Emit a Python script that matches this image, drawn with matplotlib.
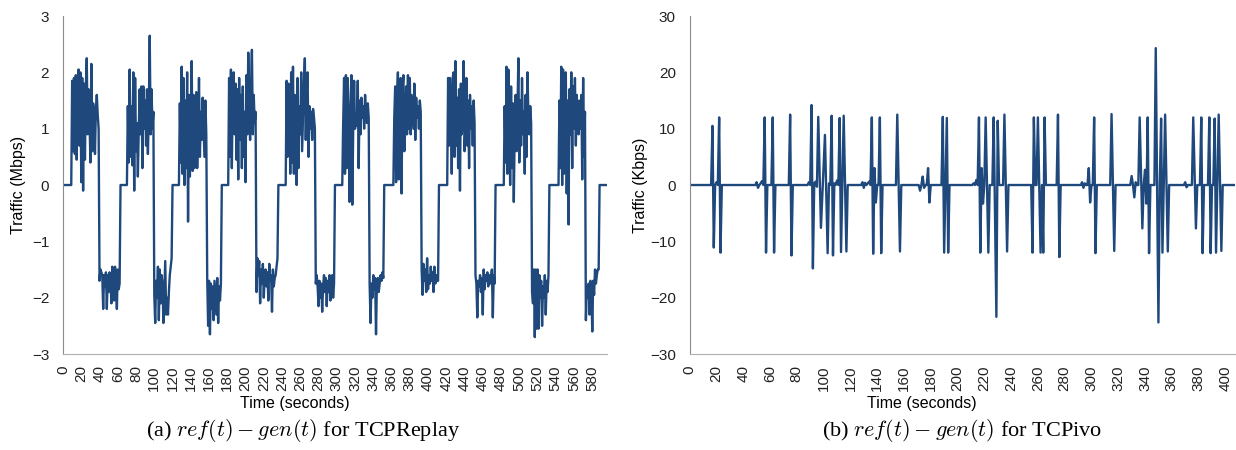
import numpy as np
import matplotlib.pyplot as plt

plt.rcParams['font.family'] = ['Liberation Sans', 'DejaVu Sans']
plt.rcParams['mathtext.fontset'] = 'cm'

# (a) TCPReplay, Mbps, one sample per second.
# each burst: start second, positive part, negative part; zero in between
burst_start = [10, 71, 128, 182, 245, 307, 363, 422, 484, 544]
burst_pos = [
    [1.85, 0.6, 1.9, 0.55, 1.95, 0.45, 1.6, 2.05, 0.7, 2.0, 0.05, 1.9, -0.1, 1.8, 0.45,
     1.75, 2.25, 0.9, 1.7, 1.2, 0.4, 2.15, 0.6, 1.45, 1.2, 0.55, 1.35, 1.6, 1.25, 1.0],
    [1.4, 0.4, 2.05, 0.5, 1.4, 0.35, 2.0, -0.1, 1.9, 0.6, 1.1, 0.15, 1.0, 1.7, 0.9,
     1.75, 0.3, 1.75, 1.0, 1.5, 0.7, 1.7, 0.55, 1.3, 2.65, 0.9, 1.7, 1.0, 1.3],
    [1.45, 0.4, 2.1, 0.2, 1.9, 0.0, 1.5, 0.3, 2.0, -0.65, 1.6, 0.15, 1.0, 2.2, 0.25,
     1.6, 0.3, 1.2, 1.65, 0.3, 0.9, 1.9, 0.5, 1.3, 0.8, 1.55, 1.0, 0.5, 1.5, 0.9],
    [1.9, 0.5, 2.05, 0.3, 1.75, 2.0, 0.9, 1.8, 0.45, 1.7, 0.1, 1.9, 0.8, 1.6, 0.3,
     1.75, 0.5, 1.3, 0.05, 1.95, 0.9, 2.35, 1.4, 0.8, 1.75, 2.4, 0.9, 1.6, 1.1, 1.3],
    [1.85, 0.5, 1.8, 1.7, 0.2, 2.0, 0.4, 2.1, 0.2, 1.6, 1.2, 0.0, 1.9, 0.3, 1.4, 0.9,
     2.0, 0.6, 1.2, 1.8, 2.25, 0.8, 1.65, 2.0, 0.5, 1.4, 1.0, 1.3, 0.8, 1.35, 1.2, 1.0],
    [1.1, 1.9, 0.2, 1.95, 0.3, 1.9, 1.2, -0.3, 1.2, 1.95, -0.35, 1.0, 1.85, 1.0, 1.2,
     1.05, 1.85, 0.3, 1.5, 0.9, 1.55, 1.2, 1.4, 1.0, 1.6, 1.3, 1.1, 1.45, 1.2],
    [1.2, 1.75, 0.05, 1.5, 2.0, 0.1, 1.3, 1.9, -0.15, 1.7, 1.95, 0.6, 1.0, 1.75, 0.9,
     1.95, 1.0, 1.9, 0.9, 1.6, 1.3, 1.0, 1.8, 0.8, 1.55, 1.2, 1.4, 1.0, 1.5, 1.3],
    [1.9, 0.7, 1.9, 1.5, 0.2, 1.9, 2.0, 0.5, 2.2, 0.7, 1.55, 0.3, 1.7, -0.1, 1.8,
     0.9, 1.2, 2.2, 0.6, 1.0, 1.9, 0.7, 1.5, 0.3, 1.6, 1.0, 1.4, 0.7, 1.5, 1.1],
    [1.4, 0.4, 2.1, 0.2, 2.05, 1.3, 0.0, 1.75, 0.3, 1.45, -0.3, 1.0, 1.6, 0.6, 1.3,
     2.25, 0.4, 1.5, 0.7, 1.9, 0.9, 1.3, 0.2, 1.6, 0.5, 2.0, 1.2, 0.9, 1.4, 1.1],
    [1.5, 0.3, 2.1, 0.0, 2.05, 0.2, 1.8, 2.0, -0.15, 1.5, -0.7, 1.7, 0.9, 2.0, 0.3,
     1.75, 1.0, 1.9, 0.7, 1.6, 1.2, 0.9, 1.5, 1.0, 1.6, 0.1, 1.9, 0.5, 1.3],
]
burst_neg = [
    [-1.7, -1.5, -1.55, -1.6, -2.2, -1.6, -1.8, -1.55, -2.2, -1.6, -1.9, -1.55, -1.7,
     -2.1, -1.45, -1.8, -2.05, -1.45, -1.7, -2.2, -1.5, -1.85, -1.75],
    [-1.95, -2.45, -1.7, -2.0, -1.45, -2.4, -1.5, -2.1, -1.6, -1.75, -2.45, -1.9, -1.35,
     -2.3, -2.0, -2.3, -1.9, -1.6, -1.45, -1.3],
    [-1.65, -2.5, -1.7, -2.65, -1.75, -2.2, -1.8, -2.4, -1.7, -2.0, -2.3, -1.65, -2.45,
     -1.8, -2.05, -1.75],
    [-1.9, -1.3, -1.6, -1.35, -2.1, -1.5, -1.75, -1.4, -2.0, -1.6, -1.5, -1.8, -1.55,
     -2.05, -1.4, -1.7, -1.6, -2.25, -1.5, -1.8, -1.65, -1.6, -1.45, -1.3],
    [-1.75, -1.6, -1.8, -2.15, -1.7, -2.0, -1.75, -2.25, -1.8, -1.6, -1.9, -1.65, -2.15,
     -1.7, -1.9, -1.6, -2.05, -1.7, -1.6, -2.0, -1.75],
    [-1.75, -2.45, -1.75, -2.0, -1.6, -1.85, -1.65, -2.65, -1.7, -1.65, -1.9, -1.75,
     -1.6, -1.7, -1.55, -1.65],
    [-1.5, -1.95, -1.4, -1.7, -1.5, -1.9, -1.3, -1.85, -1.6, -1.75, -1.45, -1.7, -1.55,
     -1.9, -1.45, -1.75, -1.6, -1.7, -1.7],
    [-1.6, -1.75, -2.35, -1.7, -1.8, -1.6, -1.9, -1.65, -2.3, -1.5, -1.85, -1.6, -1.7,
     -1.55, -1.8, -1.6, -1.75, -1.65, -1.5, -2.35, -1.6, -1.75],
    [-1.9, -2.1, -1.5, -2.7, -1.5, -2.55, -1.5, -2.55, -1.6, -2.0, -1.7, -2.5, -1.8,
     -2.0, -1.6, -2.3, -1.7, -1.9, -1.6],
    [-2.4, -1.8, -2.0, -1.75, -2.3, -1.7, -1.9, -2.6, -1.7, -1.95, -1.5, -1.75, -1.6,
     -1.5, -1.5],
]
replay_len = 597

# (b) TCPivo, Kbps: non-zero seconds only, the rest is 0
ivo_t = [17, 18, 20, 22, 23, 50, 51, 53, 54, 56, 57, 62, 63, 75, 76,
         89, 91, 92, 93, 94, 95, 96, 97, 98, 99, 100, 101, 102, 103, 104, 106, 107, 108,
         110, 112, 113, 115, 116, 117,
         129, 130, 131, 133, 134, 136, 137, 138, 139, 142, 143, 155, 156, 157,
         172, 174, 175, 178, 179, 189, 190, 192, 193,
         212, 214, 216, 217, 218, 219, 221, 223, 227, 228, 229, 230, 235, 236, 237,
         256, 257, 260, 262, 264, 265, 275, 276,
         293, 294, 295, 298, 299, 302, 303, 315, 316, 317,
         330, 332, 333, 336, 337, 338, 340, 341, 342, 343, 348, 350, 352, 353, 355, 356, 357,
         370, 371, 376, 377, 378, 382, 383, 388, 389, 392, 393, 395, 396, 397]
ivo_v = [10.5, -11.1, 0.5, 12.0, -12.0, 0.5, -0.5, 0.3, 0.7, 12.0, -12.0, 12.0, -12.0, 12.5, -12.5,
         0.5, 14.2, -14.8, 0.3, 0.6, -0.3, 12.1, 2.0, -7.6, -2.0, 3.5, 8.9, -1.5, -12.1, 0.3, 12.3, -12.5, 0.3,
         0.8, 11.9, -11.9, 12.3, 0.5, -11.8,
         0.5, -0.5, 0.4, 0.3, 0.6, 12.0, -12.2, 3.0, -3.1, 12.0, -12.1, 12.5, 0.4, -11.8,
         -1.0, 1.5, -0.5, 3.0, -3.1, 12.1, -12.0, 11.9, -12.0,
         0.3, 0.9, 12.0, -12.0, 3.0, -3.3, 12.0, -12.0, 12.0, -5.0, -23.4, 11.4, 12.5, 0.3, -11.8,
         -12.0, 12.0, 12.0, -12.0, -12.0, 12.0, 12.5, -12.8,
         0.5, -0.5, 0.3, 3.0, -3.1, 12.0, -12.1, 12.6, 0.4, -11.7,
         1.6, -2.2, 0.5, 12.0, 2.0, -7.7, 2.7, -3.3, 12.0, -12.1, 24.3, -24.4, 11.8, -12.0, 12.5, 0.4, -11.8,
         0.5, -0.4, 12.0, 2.0, -7.7, 12.0, -12.1, 12.0, -12.1, 11.8, -12.0, 12.5, 0.4, -11.7]
ivo_len = 408

replay = np.zeros(replay_len)
for s, p, n in zip(burst_start, burst_pos, burst_neg):
    vals = p + n
    replay[s:s + len(vals)] = vals
ivo = np.zeros(ivo_len)
ivo[ivo_t] = ivo_v

color = '#1F497D'
fig = plt.figure(figsize=(12.36, 4.5), dpi=100)
ax1 = fig.add_axes([0.051, 0.2133, 0.440, 0.7511])
ax2 = fig.add_axes([0.558, 0.2133, 0.441, 0.7511])

panels = [
    (ax1, replay, 'Traffic (Mbps)', (-3, 3), np.arange(-3, 4, 1), np.arange(0, 581, 20), -0.068),
    (ax2, ivo, 'Traffic (Kbps)', (-30, 30), np.arange(-30, 31, 10), np.arange(0, 401, 20), -0.077),
]
for ax, y, ylab, ylim, yt, xt, ylx in panels:
    ax.plot(np.arange(len(y)), y, color=color, lw=1.7, solid_joinstyle='round')
    ax.set_xlim(0, len(y) - 1)
    ax.set_ylim(*ylim)
    ax.set_yticks(yt)
    ax.set_xticks(xt)
    ax.set_xticklabels([str(v) for v in xt], rotation=90)
    ax.tick_params(length=0, labelsize=11, colors='#222222')
    ax.tick_params(axis='y', pad=10)
    ax.tick_params(axis='x', pad=8)
    for side in ['top', 'right']:
        ax.spines[side].set_visible(False)
    ax.spines['left'].set_color('#8C8C8C')
    ax.spines['bottom'].set_color('#B0B0B0')
    ax.set_ylabel(ylab, fontsize=11.5)
    ax.yaxis.set_label_coords(ylx, 0.5)
    ax.set_xlabel('Time (seconds)', fontsize=11.5)
    ax.xaxis.set_label_coords(0.426, -0.125)

fig.text(0.245, 0.044, '(a) $ref(t) - gen(t)$ for TCPReplay', ha='center', va='center',
         family='Liberation Serif', fontsize=16)
fig.text(0.778, 0.044, '(b) $ref(t) - gen(t)$ for TCPivo', ha='center', va='center',
         family='Liberation Serif', fontsize=16)

fig.savefig('out.png', dpi=100)
